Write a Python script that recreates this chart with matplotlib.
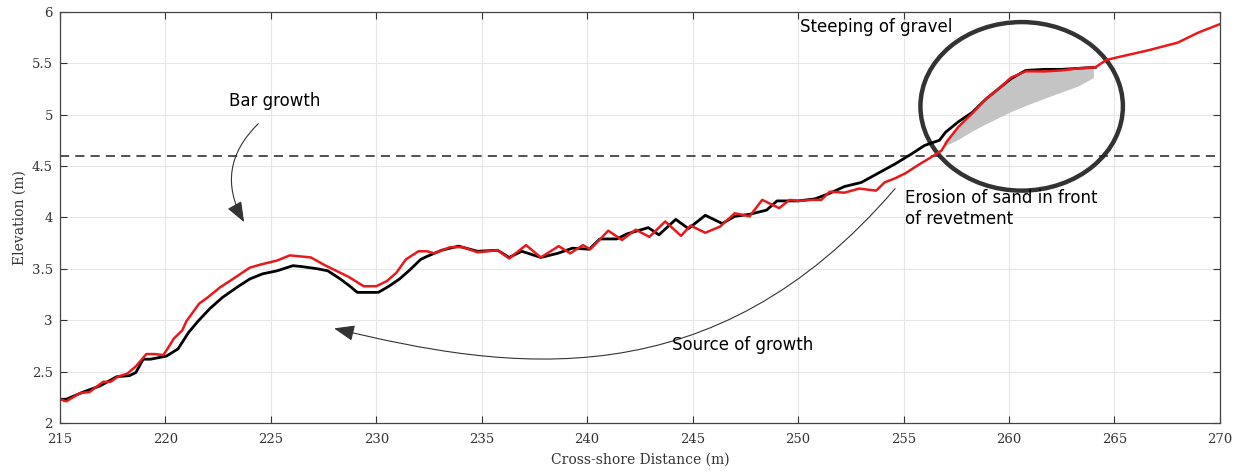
import numpy as np
import matplotlib
matplotlib.use("Agg")
from matplotlib import pyplot as plt
from matplotlib.patches import Ellipse, FancyArrowPatch
from matplotlib.path import Path

# Profile before (black) - cross-shore distance and elevation
black_x = [215.0, 215.3, 216.1, 216.9, 217.7, 218.3, 218.6, 218.95, 219.3, 220.05,
           220.6, 221.1, 221.55, 222.1, 222.7, 223.4, 224.0, 224.6, 225.3, 226.05,
           226.5, 227.2, 227.7, 228.3, 228.75, 229.1, 229.55, 230.1, 230.6, 231.1,
           231.6, 232.1, 232.4, 233.1, 233.9, 234.8, 235.75, 236.3, 236.9, 237.8,
           238.6, 239.3, 240.1, 240.6, 241.4, 241.9, 242.9, 243.4, 244.2, 244.8,
           245.6, 246.4, 247.0, 247.7, 248.5, 249.0, 250.0, 250.8, 251.45, 252.2,
           253.0, 253.8, 254.6, 255.4, 256.0, 256.7, 257.0, 257.6, 258.25, 258.9,
           259.5, 260.1, 260.8, 261.7, 262.5, 263.3, 264.1]
black_z = [2.23, 2.23, 2.30, 2.36, 2.45, 2.46, 2.49, 2.62, 2.62, 2.65,
           2.72, 2.88, 2.99, 3.11, 3.22, 3.32, 3.40, 3.45, 3.48, 3.53,
           3.52, 3.50, 3.48, 3.40, 3.33, 3.27, 3.27, 3.27, 3.33, 3.40,
           3.49, 3.59, 3.62, 3.68, 3.72, 3.67, 3.68, 3.61, 3.67, 3.61,
           3.65, 3.70, 3.69, 3.79, 3.79, 3.84, 3.90, 3.83, 3.98, 3.89,
           4.02, 3.94, 4.01, 4.03, 4.07, 4.16, 4.16, 4.18, 4.23, 4.30,
           4.34, 4.43, 4.52, 4.62, 4.70, 4.75, 4.83, 4.93, 5.02, 5.15,
           5.25, 5.35, 5.43, 5.44, 5.44, 5.45, 5.46]

# Profile after (red)
red_x = [215.0, 215.3, 215.95, 216.4, 217.05, 217.4, 217.75, 218.2, 218.6, 219.1,
         219.5, 219.9, 220.1, 220.4, 220.8, 221.0, 221.6, 222.0, 222.6, 223.2,
         224.0, 224.5, 225.3, 225.9, 226.4, 226.9, 227.6, 228.1, 228.7, 229.4,
         230.0, 230.5, 230.95, 231.4, 232.0, 232.4, 232.75, 233.5, 234.1, 234.8,
         235.75, 236.3, 237.1, 237.8, 238.65, 239.2, 239.8, 240.15, 241.0, 241.65,
         242.3, 242.95, 243.7, 244.45, 244.9, 245.6, 246.3, 247.0, 247.7, 248.3,
         249.1, 249.6, 250.0, 250.7, 251.1, 251.5, 252.2, 252.9, 253.7, 254.1,
         254.6, 255.1, 255.7, 256.35, 256.8, 257.1, 257.6, 258.25, 258.9, 259.5,
         260.1, 260.8, 261.7, 262.5, 263.3, 264.1, 264.6, 265.2, 266.5, 267.25,
         268.0, 269.0, 270.0]
red_z = [2.23, 2.21, 2.29, 2.30, 2.40, 2.40, 2.45, 2.48, 2.55, 2.67,
         2.67, 2.66, 2.72, 2.82, 2.90, 2.99, 3.16, 3.22, 3.32, 3.40,
         3.51, 3.54, 3.58, 3.63, 3.62, 3.61, 3.53, 3.48, 3.42, 3.33,
         3.33, 3.38, 3.46, 3.59, 3.67, 3.67, 3.65, 3.71, 3.71, 3.66,
         3.68, 3.60, 3.73, 3.61, 3.72, 3.65, 3.73, 3.69, 3.87, 3.78,
         3.88, 3.81, 3.96, 3.82, 3.92, 3.85, 3.91, 4.04, 4.01, 4.17,
         4.09, 4.17, 4.16, 4.17, 4.17, 4.25, 4.24, 4.28, 4.26, 4.34,
         4.38, 4.43, 4.51, 4.59, 4.65, 4.75, 4.88, 5.01, 5.15, 5.25,
         5.36, 5.42, 5.42, 5.43, 5.45, 5.46, 5.53, 5.56, 5.62, 5.66,
         5.70, 5.80, 5.88]

# Grey envelope of gravel profiles
gray_x = [256.9, 257.6, 258.25, 258.9, 259.5, 260.1, 260.8, 261.7, 262.5, 263.3, 264.0]
gray_hi = [4.74, 4.87, 5.00, 5.14, 5.24, 5.35, 5.41, 5.42, 5.43, 5.44, 5.45]
gray_lo = [4.69, 4.76, 4.84, 4.91, 4.97, 5.03, 5.09, 5.16, 5.22, 5.28, 5.36]

water_level = 4.6

xticks = list(range(215, 271, 5))
yticks = [2, 2.5, 3, 3.5, 4, 4.5, 5, 5.5, 6]
ytick_labels = ["2", "2.5", "3", "3.5", "4", "4.5", "5", "5.5", "6"]

fig = plt.figure(figsize=(12.48, 4.72), dpi=100)
ax = fig.add_axes([0.048, 0.104, 0.9295, 0.871])

ax.grid(True, color="#e6e6e6", linewidth=0.8)
ax.set_axisbelow(True)

ax.fill_between(gray_x, gray_lo, gray_hi, color="#c4c4c4", linewidth=0)
ax.axhline(water_level, color="#222222", linestyle=(0, (6, 4)), linewidth=1.1)
ax.plot(black_x, black_z, color="black", linewidth=2.0)
ax.plot(red_x, red_z, color="#e8191d", linewidth=1.8)

ell = Ellipse((260.6, 5.08), 9.6, 1.64, fill=False, edgecolor="#333333", linewidth=3.2)
ax.add_patch(ell)

# annotation arrows
arr_style = "-|>,head_length=0.9,head_width=0.35"
a1 = FancyArrowPatch((224.5, 4.93), (223.8, 3.93), connectionstyle="arc3,rad=0.4",
                     arrowstyle=arr_style, mutation_scale=14, color="#333333", linewidth=0.8)
ax.add_patch(a1)
src_path = Path([(254.6, 4.28), (245.96, 2.21), (236.29, 2.505), (228.0, 2.92)],
                [Path.MOVETO, Path.CURVE4, Path.CURVE4, Path.CURVE4])
a2 = FancyArrowPatch(path=src_path, arrowstyle=arr_style, mutation_scale=14,
                     color="#333333", linewidth=0.8)
ax.add_patch(a2)

tfont = dict(fontsize=12, family="DejaVu Sans", color="black")
ax.text(223.0, 5.13, "Bar growth", va="center", ha="left", **tfont)
ax.text(250.1, 5.85, "Steeping of gravel", va="center", ha="left", **tfont)
ax.text(255.05, 4.28, "Erosion of sand in front\nof revetment", va="top", ha="left",
        linespacing=1.25, **tfont)
ax.text(244.0, 2.76, "Source of growth", va="center", ha="left", **tfont)

ax.set_xlim(215, 270)
ax.set_ylim(2, 6)
ax.set_xticks(xticks)
ax.set_yticks(yticks)
ax.set_yticklabels(ytick_labels)
ax.tick_params(direction="in", length=5, top=True, right=True, colors="#333333",
               labelsize=9.5, width=0.8)
ax.tick_params(axis="x", pad=7)
ax.tick_params(axis="y", pad=5)
for lab in ax.get_xticklabels() + ax.get_yticklabels():
    lab.set_family("DejaVu Serif")
for sp in ax.spines.values():
    sp.set_color("#444444")
    sp.set_linewidth(0.9)

ax.set_xlabel("Cross-shore Distance (m)", family="DejaVu Serif", fontsize=10,
              color="#333333", labelpad=5)
ax.set_ylabel("Elevation (m)", family="DejaVu Serif", fontsize=10, color="#333333")

fig.savefig("out.png", dpi=100)
